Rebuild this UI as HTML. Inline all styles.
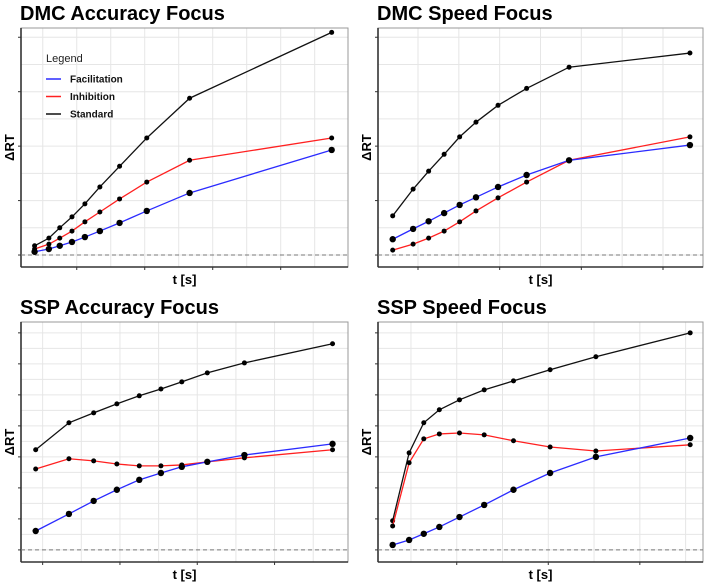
<!DOCTYPE html>
<html><head><meta charset="utf-8"><style>
body{margin:0;background:#fff;}
svg{display:block;font-family:"Liberation Sans",sans-serif;}
</style></head><body>
<svg id="c" width="707" height="582" viewBox="0 0 707 582"></svg>
<script>
// Panel 1: DMC Accuracy Focus
const dmcAccT = [0.38,0.59,0.75,0.93,1.12,1.34,1.63,2.03,2.66,4.75];
const dmcAccStd = [0.17,0.31,0.50,0.70,0.94,1.25,1.63,2.15,2.88,4.09];
const dmcAccInh = [0.11,0.20,0.31,0.44,0.61,0.79,1.03,1.34,1.74,2.15];
const dmcAccFac = [0.06,0.11,0.17,0.24,0.33,0.44,0.59,0.81,1.14,1.93];
// Panel 2: DMC Speed Focus
const dmcSpdT = [-0.31,-0.06,0.13,0.32,0.51,0.71,0.98,1.33,1.85,3.33];
const dmcSpdStd = [0.72,1.21,1.54,1.85,2.17,2.44,2.75,3.06,3.45,3.71];
const dmcSpdInh = [0.09,0.20,0.31,0.44,0.61,0.81,1.05,1.34,1.74,2.17];
const dmcSpdFac = [0.29,0.48,0.62,0.77,0.92,1.06,1.25,1.47,1.74,2.02];
// Panel 3: SSP Accuracy Focus
const sspAccT = [-0.09,0.34,0.66,0.96,1.25,1.53,1.80,2.13,2.61,3.75];
const sspAccStd = [3.23,4.10,4.42,4.71,4.97,5.19,5.42,5.71,6.03,6.65];
const sspAccInh = [2.61,2.94,2.87,2.77,2.71,2.71,2.74,2.84,2.97,3.23];
const sspAccFac = [0.61,1.16,1.58,1.94,2.26,2.48,2.68,2.84,3.06,3.42];
// Panel 4: SSP Speed Focus
const sspSpdT = [0.30,0.48,0.64,0.81,1.03,1.30,1.62,2.02,2.52,3.55];
const sspSpdStd = [0.94,3.13,4.10,4.52,4.84,5.16,5.45,5.81,6.23,7.00];
const sspSpdInh = [0.77,2.81,3.58,3.74,3.77,3.71,3.52,3.32,3.19,3.39];
const sspSpdFac = [0.16,0.32,0.52,0.74,1.06,1.45,1.94,2.48,3.00,3.61];
const seriesNames = ["Facilitation","Inhibition","Standard"];
const seriesColors = ["#2b2bff","#ff2020","#111"];

const NS="http://www.w3.org/2000/svg";
const svg=document.getElementById('c');
function mk(tag,attrs,parent){const e=document.createElementNS(NS,tag);for(const k in attrs)e.setAttribute(k,attrs[k]);(parent||svg).appendChild(e);return e;}

const panels=[
 {key:'dmc-accuracy',title:'DMC Accuracy Focus',box:[21,28,348,267],xd:[0.18,4.99],yd:[-0.22,4.17],xt:[1,2,3,4],yt:[0,1,2,3,4],ym:0.5,t:dmcAccT,s:[dmcAccFac,dmcAccInh,dmcAccStd],legend:true},
 {key:'dmc-speed',title:'DMC Speed Focus',box:[378,28,703,267],xd:[-0.49,3.49],yd:[-0.22,4.17],xt:[0,1,2,3],yt:[0,1,2,3,4],ym:0.5,t:dmcSpdT,s:[dmcSpdFac,dmcSpdInh,dmcSpdStd]},
 {key:'ssp-accuracy',title:'SSP Accuracy Focus',box:[21,322,348,562],xd:[-0.28,3.95],yd:[-0.39,7.35],xt:[0,1,2,3],yt:[0,1,2,3,4,5,6,7],ym:0.5,t:sspAccT,s:[sspAccFac,sspAccInh,sspAccStd]},
 {key:'ssp-speed',title:'SSP Speed Focus',box:[378,322,703,562],xd:[0.14,3.69],yd:[-0.39,7.35],xt:[1,2,3],yt:[0,1,2,3,4,5,6,7],ym:0.5,t:sspSpdT,s:[sspSpdFac,sspSpdInh,sspSpdStd]}
];

panels.forEach(p=>{
 const [x0,y0,x1,y1]=p.box;
 const X=v=>x0+(v-p.xd[0])/(p.xd[1]-p.xd[0])*(x1-x0);
 const Y=v=>y1-(v-p.yd[0])/(p.yd[1]-p.yd[0])*(y1-y0);
 const g=mk('g',{});
 
 
 const t=mk('text',{x:x0-1,y:y0-8,'font-size':20,'font-weight':'bold',fill:'#000'},g);
 t.textContent=p.title;
 
 
 mk('rect',{x:x0,y:y0,width:x1-x0,height:y1-y0,fill:'#fff'},g);
 // grid
 const step=p.xt[1]-p.xt[0];
 for(let v=p.xt[0]-step;v<=p.xd[1];v+=step/2){if(v<p.xd[0])continue;mk('line',{x1:X(v),x2:X(v),y1:y0,y2:y1,stroke:'#e6e6e6','stroke-width':1},g);}
 for(let v=p.yt[0];v<=p.yd[1];v+=p.ym){mk('line',{x1:x0,x2:x1,y1:Y(v),y2:Y(v),stroke:'#e6e6e6','stroke-width':1},g);}
 mk('rect',{x:x0,y:y0,width:x1-x0,height:y1-y0,fill:'none',stroke:'#999','stroke-width':1},g);
 mk('line',{x1:x0,x2:x0,y1:y0,y2:y1,stroke:'#333','stroke-width':1.6},g);
 mk('line',{x1:x0,x2:x1,y1:y1,y2:y1,stroke:'#333','stroke-width':1.6},g);
 p.xt.forEach(v=>mk('line',{x1:X(v),x2:X(v),y1:y1,y2:y1+3,stroke:'#333','stroke-width':1},g));
 p.yt.forEach(v=>mk('line',{x1:x0-3,x2:x0,y1:Y(v),y2:Y(v),stroke:'#333','stroke-width':1},g));
 mk('line',{x1:x0,x2:x1,y1:Y(0),y2:Y(0),stroke:'#777','stroke-width':1,'stroke-dasharray':'4,3'},g);
 const xl=mk('text',{x:(x0+x1)/2,y:y1+17,'font-size':13,'font-weight':'bold','text-anchor':'middle'},g);
 xl.textContent='t [s]';
 
 
 const yl=mk('text',{x:0,y:0,'font-size':13,'font-weight':'bold','text-anchor':'middle',transform:`translate(${x0-7},${(y0+y1)/2}) rotate(-90)`},g);
 yl.textContent='ΔRT';
 
 
 [2,1,0].forEach(si=>{
  const vals=p.s[si];
  const pts=vals.map((v,i)=>X(p.t[i])+','+Y(v)).join(' ');
  const pl=mk('polyline',{points:pts,fill:'none',stroke:seriesColors[si],'stroke-width':1.3},g);
  
  
  vals.forEach((v,i)=>{
   const c=mk('circle',{cx:X(p.t[i]),cy:Y(v),r:si===0?3.2:2.5,fill:'#000'},g);
   
   
  });
 });
 if(p.legend){
  const lg=mk('g',{},g);
  
  
  const lt=mk('text',{x:46,y:62,'font-size':11,fill:'#222'},lg);
  lt.textContent='Legend';
  seriesNames.forEach((n,i)=>{
   const yy=79+i*17.5;
   const e=mk('g',{},lg);
   
   
   mk('line',{x1:46,x2:61,y1:yy,y2:yy,stroke:seriesColors[i],'stroke-width':1.5},e);
   const tx=mk('text',{x:70,y:yy+3.5,'font-size':10,'font-weight':'bold',fill:'#111'},e);
   tx.textContent=n;
  });
 }
});
</script>
</body></html>
